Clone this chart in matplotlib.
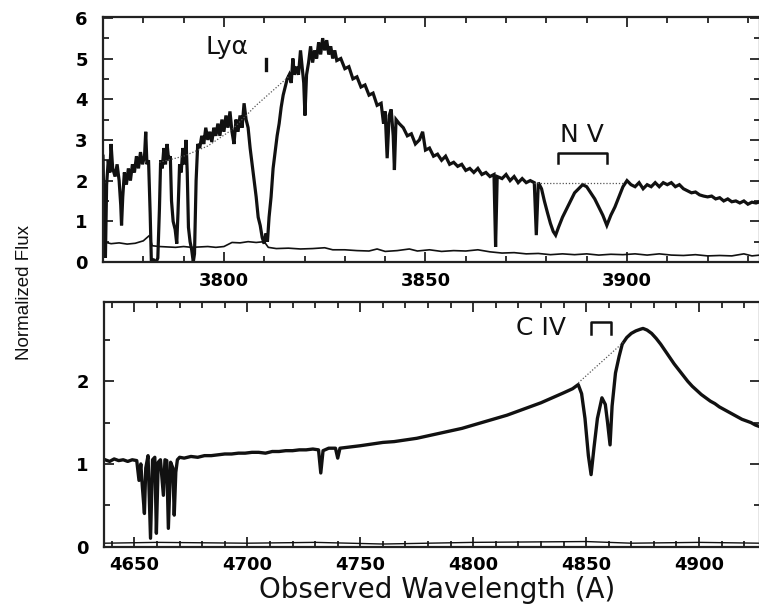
import numpy as np
import matplotlib
matplotlib.use("Agg")
import matplotlib.pyplot as plt
from matplotlib.ticker import MultipleLocator

# ---------------- data ----------------
# upper panel: Ly-alpha / N V region
top_wave = [3770.0, 3770.3, 3770.6, 3770.9, 3771.3, 3771.7, 3772.0, 3772.4, 3773.0, 3773.5,
            3774.0, 3774.4, 3774.6, 3774.9, 3775.3, 3775.8, 3776.3, 3776.8, 3777.3, 3777.8,
            3778.3, 3778.8, 3779.3, 3779.8, 3780.3, 3780.6, 3780.9, 3781.3, 3781.7, 3782.0,
            3782.6, 3783.2, 3783.6, 3784.0, 3784.3, 3784.7, 3785.1, 3785.5, 3785.9, 3786.3,
            3786.7, 3787.0, 3787.4, 3787.9, 3788.3, 3788.6, 3789.0, 3789.4, 3789.8, 3790.2,
            3790.6, 3790.9, 3791.2, 3791.6, 3792.0, 3792.4, 3792.7, 3793.1, 3793.5, 3794.0,
            3794.5, 3795.0, 3795.5, 3796.0, 3796.5, 3797.0, 3797.5, 3798.0, 3798.5, 3799.0,
            3799.5, 3800.0, 3800.5, 3801.0, 3801.5, 3802.0, 3802.5, 3803.0, 3803.5, 3804.0,
            3804.5, 3805.0, 3805.5, 3806.0, 3806.5, 3807.0, 3807.5, 3808.0, 3808.5, 3809.0,
            3809.5, 3810.0, 3810.4, 3810.8, 3811.2, 3811.7, 3812.2, 3812.7, 3813.2, 3813.7,
            3814.2, 3814.7, 3815.2, 3815.7, 3816.2, 3816.7, 3817.1, 3817.5, 3818.0, 3818.5,
            3819.0, 3819.4, 3819.8, 3820.1, 3820.5, 3821.0, 3821.5, 3822.0, 3822.5, 3823.0,
            3823.5, 3824.0, 3824.5, 3825.0, 3825.5, 3826.0, 3826.5, 3827.0, 3827.5, 3828.0,
            3829.0, 3830.0, 3831.0, 3832.0, 3833.0, 3834.0, 3835.0, 3836.0, 3837.0, 3838.0,
            3839.0, 3839.6, 3840.0, 3840.5, 3841.0, 3841.5, 3842.0, 3842.3, 3842.7, 3843.5,
            3844.5, 3845.5, 3846.5, 3847.5, 3848.5, 3849.3, 3850.0, 3851.0, 3852.0, 3853.0,
            3854.0, 3855.0, 3856.0, 3857.0, 3858.0, 3859.0, 3860.0, 3861.0, 3862.0, 3863.0,
            3864.0, 3865.0, 3866.0, 3867.0, 3867.4, 3867.8, 3869.0, 3870.0, 3871.0, 3872.0,
            3873.0, 3874.0, 3875.0, 3876.0, 3877.0, 3877.5, 3878.0, 3878.8, 3879.5, 3880.3,
            3881.0, 3881.7, 3882.3, 3883.0, 3884.0, 3885.0, 3886.0, 3887.0, 3888.0, 3889.0,
            3890.0, 3891.0, 3892.0, 3893.0, 3894.0, 3895.0, 3896.0, 3897.0, 3898.0, 3899.0,
            3900.0, 3901.0, 3902.0, 3903.0, 3904.0, 3905.0, 3906.0, 3907.0, 3908.0, 3909.0,
            3910.0, 3911.0, 3912.0, 3913.0, 3914.0, 3915.0, 3916.0, 3917.0, 3918.0, 3919.0,
            3920.0, 3921.0, 3922.0, 3923.0, 3924.0, 3925.0, 3926.0, 3927.0, 3928.0, 3929.0,
            3930.0, 3931.0, 3932.0, 3933.0]
top_flux = [2.6, 0.9, 0.1, 1.9, 2.5, 2.2, 2.9, 2.3, 2.1, 2.4,
            2.0, 1.4, 0.9, 1.6, 2.2, 1.9, 2.3, 2.0, 2.4, 2.2,
            2.6, 2.3, 2.7, 2.4, 2.6, 3.2, 2.4, 2.5, 1.2, 0.0,
            0.05, 0.0, 0.1, 1.3, 2.5, 2.3, 2.8, 2.4, 2.9, 2.5,
            2.6, 1.5, 1.0, 0.8, 0.45, 1.2, 2.4, 2.2, 2.8, 2.4,
            3.0, 2.2, 0.85, 0.5, 0.3, 0.0, 0.2, 2.0, 2.9, 2.8,
            3.1, 2.9, 3.3, 3.0, 3.2, 2.95, 3.3, 3.1, 3.4, 3.1,
            3.5, 3.2, 3.6, 3.3, 3.7, 3.2, 2.9, 3.5, 3.2, 3.6,
            3.3, 3.9, 3.5, 3.3, 2.8, 2.4, 2.0, 1.6, 1.1, 0.9,
            0.6, 0.45, 0.7, 0.5, 1.1, 1.6, 2.3, 2.7, 3.1, 3.4,
            3.8, 4.1, 4.3, 4.5, 4.6, 4.4, 5.0, 4.6, 4.8, 4.6,
            5.2, 4.8, 4.4, 3.6, 4.6, 4.9, 5.3, 4.9, 5.2, 5.0,
            5.4, 5.1, 5.5, 5.2, 5.45, 5.1, 5.3, 5.0, 5.2, 4.95,
            5.0, 4.75, 4.8, 4.5, 4.55, 4.3, 4.35, 4.1, 4.15, 3.85,
            3.9, 3.4, 3.7, 2.55, 3.6, 3.75, 3.1, 2.26, 3.5, 3.4,
            3.3, 3.1, 3.15, 2.9, 3.0, 3.2, 2.75, 2.8, 2.6, 2.65,
            2.5, 2.6, 2.4, 2.45, 2.35, 2.4, 2.25, 2.3, 2.2, 2.3,
            2.15, 2.2, 2.1, 2.15, 0.37, 2.1, 2.05, 2.15, 2.0, 2.1,
            1.95, 2.05, 1.95, 2.0, 1.95, 0.66, 1.95, 1.8, 1.5, 1.2,
            0.95, 0.75, 0.66, 0.85, 1.1, 1.3, 1.5, 1.7, 1.8, 1.9,
            1.85, 1.7, 1.55, 1.35, 1.15, 0.9, 1.15, 1.35, 1.6, 1.85,
            2.0, 1.9, 1.85, 1.95, 1.8, 1.9, 1.85, 1.95, 1.85, 1.95,
            1.9, 1.95, 1.85, 1.9, 1.8, 1.75, 1.7, 1.72, 1.65, 1.62,
            1.6, 1.62, 1.55, 1.58, 1.5, 1.55, 1.48, 1.5, 1.45, 1.5,
            1.42, 1.47, 1.45, 1.48]

top_err_wave = [3770, 3772, 3774, 3776, 3778, 3780, 3781.5, 3782.2, 3784, 3786, 3788, 3790,
                3792, 3794, 3796, 3798, 3800, 3802, 3804, 3806, 3808, 3810, 3811, 3813, 3816,
                3819, 3822, 3825, 3827, 3830, 3833, 3836, 3838, 3840, 3843, 3846, 3848, 3851,
                3854, 3857, 3860, 3863, 3866, 3869, 3872, 3875, 3878, 3881, 3884, 3887, 3890,
                3893, 3896, 3899, 3902, 3905, 3908, 3911, 3914, 3917, 3920, 3923, 3926, 3929,
                3931, 3933]
top_err_flux = [0.5, 0.45, 0.47, 0.44, 0.46, 0.52, 0.65, 0.4, 0.38, 0.37, 0.36, 0.38,
                0.36, 0.37, 0.38, 0.36, 0.38, 0.48, 0.47, 0.5, 0.48, 0.5, 0.36, 0.33, 0.34,
                0.32, 0.33, 0.35, 0.3, 0.3, 0.28, 0.27, 0.32, 0.26, 0.28, 0.32, 0.27, 0.3,
                0.26, 0.28, 0.27, 0.3, 0.25, 0.22, 0.23, 0.2, 0.21, 0.18, 0.2, 0.18, 0.2,
                0.17, 0.19, 0.18, 0.2, 0.17, 0.2, 0.17, 0.16, 0.18, 0.15, 0.16, 0.15, 0.2,
                0.15, 0.17]

top_cont_lya_wave = [3784, 3790, 3796, 3802, 3808, 3816]
top_cont_lya_flux = [2.45, 2.6, 2.85, 3.25, 3.85, 4.55]
top_cont_nv_wave = [3877, 3899]
top_cont_nv_flux = [1.95, 1.95]

# lower panel: C IV region
bot_wave = [4637, 4639, 4641, 4643, 4645, 4647, 4649, 4651, 4652, 4652.8,
            4653.5, 4654.4, 4655, 4656, 4657.1, 4658, 4659, 4659.7, 4660.5, 4661.5,
            4662.8, 4663.5, 4664.3, 4665, 4666, 4667, 4667.6, 4668.3, 4669, 4670,
            4672, 4675, 4678, 4681, 4684, 4687, 4690, 4693, 4696, 4699,
            4702, 4705, 4708, 4711, 4714, 4717, 4720, 4723, 4726, 4729,
            4731.5, 4732.5, 4733.5, 4736, 4739, 4740, 4741, 4744, 4747, 4750,
            4755, 4760, 4765, 4770, 4775, 4780, 4785, 4790, 4795, 4800,
            4805, 4810, 4815, 4820, 4825, 4830, 4835, 4840, 4844, 4846.5,
            4848, 4849.5, 4851, 4852.2, 4853.5, 4855, 4857, 4858.5, 4859.5, 4860.6,
            4861.5, 4863, 4864.6, 4866, 4868, 4870, 4872, 4874, 4875.2, 4877,
            4879, 4881, 4883, 4885, 4887, 4889, 4891, 4893, 4895, 4897,
            4899, 4901, 4903, 4905, 4907, 4909, 4911, 4913, 4915, 4917,
            4919, 4921, 4923, 4925, 4927]
bot_flux = [1.05, 1.03, 1.06, 1.04, 1.05, 1.03, 1.05, 1.04, 0.8, 1.0,
            0.72, 0.4, 0.95, 1.1, 0.1, 1.05, 1.08, 0.16, 1.02, 1.05,
            0.62, 1.05, 1.04, 0.22, 1.02, 0.95, 0.38, 0.9, 1.05, 1.08,
            1.07, 1.09, 1.08, 1.1, 1.1, 1.11, 1.12, 1.12, 1.13, 1.13,
            1.14, 1.14, 1.13, 1.15, 1.15, 1.16, 1.16, 1.17, 1.17, 1.18,
            1.17, 0.89, 1.16, 1.19, 1.19, 1.07, 1.19, 1.2, 1.21, 1.22,
            1.24, 1.26, 1.27, 1.29, 1.31, 1.34, 1.37, 1.4, 1.43, 1.47,
            1.51, 1.55, 1.59, 1.64, 1.69, 1.74, 1.8, 1.86, 1.91, 1.96,
            1.85, 1.55, 1.1, 0.87, 1.2, 1.55, 1.8, 1.72, 1.5, 1.23,
            1.7, 2.1, 2.3, 2.45, 2.53, 2.58, 2.61, 2.63, 2.64, 2.62,
            2.58, 2.52, 2.45, 2.37, 2.29, 2.21, 2.14, 2.07, 2.0, 1.94,
            1.89, 1.84, 1.8, 1.76, 1.73, 1.69, 1.66, 1.63, 1.6, 1.57,
            1.54, 1.52, 1.5, 1.47, 1.45]

bot_err_wave = [4637, 4660, 4700, 4730, 4760, 4800, 4850, 4870, 4900, 4927]
bot_err_flux = [0.04, 0.05, 0.04, 0.05, 0.03, 0.05, 0.06, 0.04, 0.05, 0.04]

bot_cont_wave = [4846.5, 4866.4]
bot_cont_flux = [1.98, 2.47]

top_xticks = [3800, 3850, 3900]
top_yticks = [0, 1, 2, 3, 4, 5, 6]
bot_xticks = [4650, 4700, 4750, 4800, 4850, 4900]
bot_yticks = [0, 1, 2]

# ---------------- figure ----------------
W, H = 759, 606
fig = plt.figure(figsize=(W / 100, H / 100), dpi=100)
ax1 = fig.add_axes([103 / W, 1 - 262 / H, (760 - 103) / W, (262 - 17) / H])
ax2 = fig.add_axes([104 / W, 1 - 546.5 / H, (760 - 104) / W, (546.5 - 302) / H])

tickfont = dict(family="DejaVu Sans", weight="bold", size=13)

for ax in (ax1, ax2):
    for s in ax.spines.values():
        s.set_linewidth(1.6)
        s.set_color("#222222")
    ax.tick_params(which="both", direction="in", top=True, right=True,
                   width=1.3, color="#222222")
    ax.tick_params(which="major", length=7, pad=7)
    ax.tick_params(which="minor", length=4)
    ax.tick_params(axis="y", which="major", pad=11)
    ax.xaxis.set_minor_locator(MultipleLocator(10))
    ax.yaxis.set_minor_locator(MultipleLocator(0.5))

# upper panel
ax1.plot(top_wave, top_flux, color="#111111", lw=2.3, solid_joinstyle="miter")
ax1.plot(top_err_wave, top_err_flux, color="#111111", lw=1.2)
ax1.plot(top_cont_lya_wave, top_cont_lya_flux, color="#555555", lw=0.9, ls=(0, (1, 1.5)))
ax1.plot(top_cont_nv_wave, top_cont_nv_flux, color="#555555", lw=0.9, ls=(0, (1, 1.5)))
ax1.set_xlim(3770, 3933)
ax1.set_ylim(0, 6.02)
ax1.set_xticks(top_xticks)
ax1.set_yticks(top_yticks)
ax1.set_xticklabels([str(v) for v in top_xticks], **tickfont)
ax1.set_yticklabels([str(v) for v in top_yticks], **tickfont)

ax1.text(3800.7, 5.28, "Ly\u03b1", ha="center", va="center", fontsize=18,
         family="DejaVu Sans", color="#111111")
ax1.plot([3810.4, 3810.4], [4.72, 5.0], color="#111111", lw=2.4)
ax1.text(3888.8, 3.12, "N V", ha="center", va="center", fontsize=18,
         family="DejaVu Sans", color="#111111")
ax1.plot([3882.8, 3882.8, 3895.0, 3895.0], [2.43, 2.68, 2.68, 2.43],
         color="#111111", lw=1.8)

# lower panel
ax2.plot(bot_wave, bot_flux, color="#111111", lw=2.4)
ax2.plot(bot_err_wave, bot_err_flux, color="#111111", lw=1.0)
ax2.plot(bot_cont_wave, bot_cont_flux, color="#555555", lw=0.9, ls=(0, (1, 1.5)))
ax2.set_xlim(4636.5, 4927)
ax2.set_ylim(0, 2.96)
ax2.set_xticks(bot_xticks)
ax2.set_yticks(bot_yticks)
ax2.set_xticklabels([str(v) for v in bot_xticks], **tickfont)
ax2.set_yticklabels([str(v) for v in bot_yticks], **tickfont)

ax2.text(4830.1, 2.65, "C IV", ha="center", va="center", fontsize=18,
         family="DejaVu Sans", color="#111111")
ax2.plot([4852.2, 4852.2, 4861.0, 4861.0], [2.57, 2.72, 2.72, 2.57],
         color="#111111", lw=1.8)

fig.text(25 / W, 1 - 293 / H, "Normalized Flux", rotation=90, ha="center", va="center",
         fontsize=13.5, family=["Liberation Sans", "DejaVu Sans"],
         color="#111111")
fig.text(437 / W, 1 - 590 / H, "Observed Wavelength (A)", ha="center", va="center",
         fontsize=20, family="DejaVu Sans", color="#111111")

fig.savefig("out.png", dpi=100)
